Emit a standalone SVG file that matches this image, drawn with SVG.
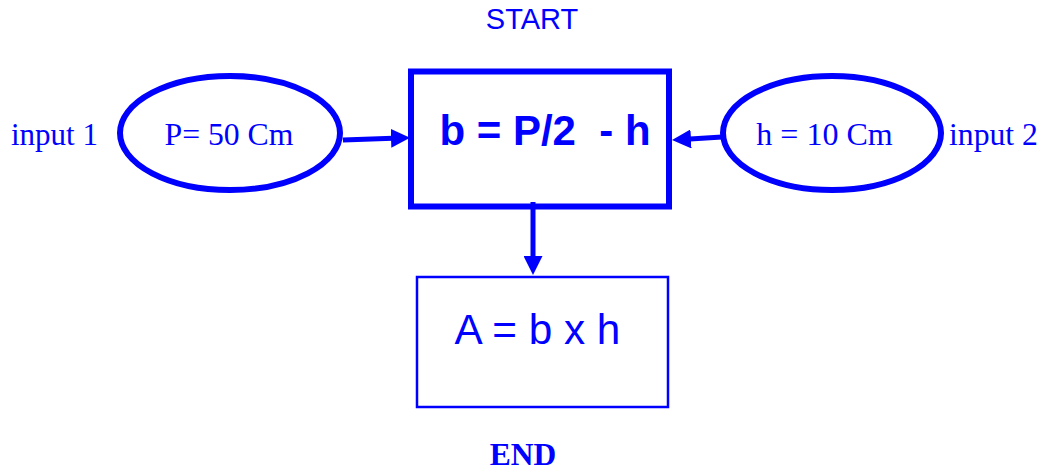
<svg xmlns="http://www.w3.org/2000/svg" width="1043" height="470" viewBox="0 0 1043 470">
<style>
.serif{font-family:"Liberation Serif","Times New Roman",serif;fill:#0000ff}
.sans{font-family:"Liberation Sans",Arial,sans-serif;fill:#0000ff}
.conn{stroke:#0000ff;stroke-width:5;fill:none}
.oval{fill:none;stroke:#0000ff;stroke-width:6}
</style>
<defs>
<marker id="ah" viewBox="0 0 19 19" refX="9" refY="9.5" markerWidth="19" markerHeight="19" markerUnits="userSpaceOnUse" orient="auto">
<path d="M0,0 L19,9.5 L0,19 Z" fill="#0000ff"/>
</marker>
</defs>
<rect width="1043" height="470" fill="#ffffff"/>
<g id="start"><text class="sans" x="532" y="29" font-size="29" text-anchor="middle">START</text></g>
<g id="input1label"><text class="serif" x="11" y="145" font-size="31">input 1</text></g>
<g id="input1"><ellipse class="oval" cx="230" cy="133" rx="110" ry="57"/>
<text class="serif" x="229" y="145" font-size="31.7" text-anchor="middle">P= 50 Cm</text></g>
<g id="calc"><rect x="411" y="71.5" width="258" height="135" fill="none" stroke="#0000ff" stroke-width="6"/>
<text class="sans" x="545" y="145" font-size="42" font-weight="bold" text-anchor="middle" xml:space="preserve">b = P/2  - h</text></g>
<g id="input2"><ellipse class="oval" cx="832" cy="133" rx="109" ry="57"/>
<text class="serif" x="824.5" y="145" font-size="32" text-anchor="middle">h = 10 Cm</text></g>
<g id="input2label"><text class="serif" x="949" y="145" font-size="31.7">input 2</text></g>
<g id="area"><rect x="417" y="277" width="251" height="130" fill="none" stroke="#0000ff" stroke-width="2.5"/>
<text class="sans" x="537.5" y="344" font-size="42.3" text-anchor="middle">A = b x h</text></g>
<g id="end"><text class="serif" x="523" y="465" font-size="31.5" font-weight="bold" text-anchor="middle">END</text></g>
<g id="connectors">
<line class="conn" x1="343" y1="140" x2="400" y2="138" marker-end="url(#ah)"/>
<line class="conn" x1="722" y1="137" x2="682" y2="139.5" marker-end="url(#ah)"/>
<line class="conn" x1="533" y1="202" x2="533" y2="265" marker-end="url(#ah)"/>
</g>
</svg>
